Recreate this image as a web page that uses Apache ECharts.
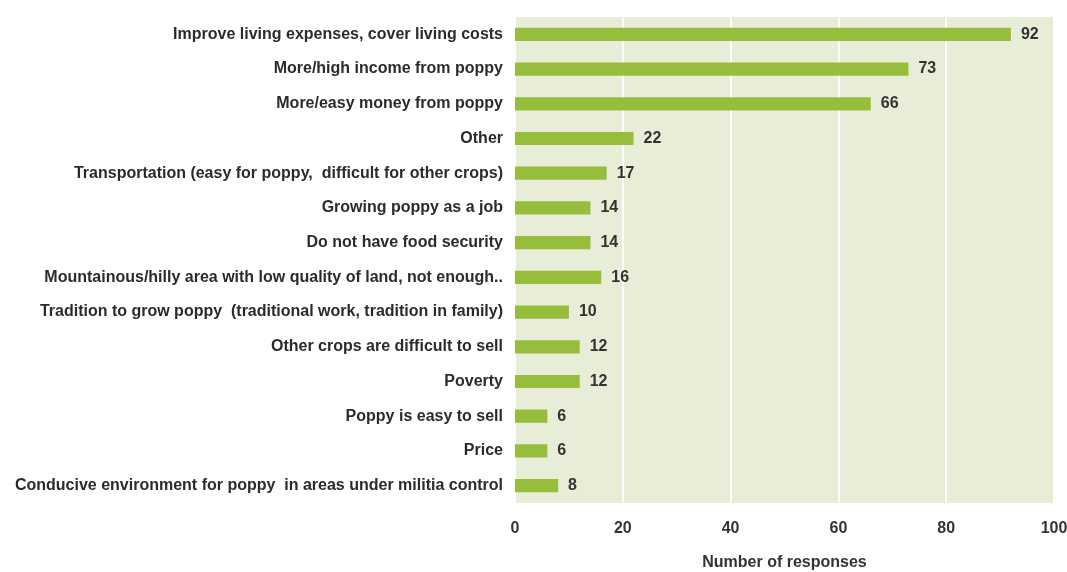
<!DOCTYPE html>
<html>
<head>
<meta charset="utf-8">
<script src="https://cdn.jsdelivr.net/npm/echarts@6/dist/echarts.min.js"></script>
<style>
  html, body { margin: 0; padding: 0; background: #ffffff; }
  #chart { width: 1067px; height: 572px; }
</style>
</head>
<body>
<div id="chart"></div>
<script>
// Reasons for growing poppy, listed top to bottom
const categories = [
  "Improve living expenses, cover living costs",
  "More/high income from poppy",
  "More/easy money from poppy",
  "Other",
  "Transportation (easy for poppy,  difficult for other crops)",
  "Growing poppy as a job",
  "Do not have food security",
  "Mountainous/hilly area with low quality of land, not enough..",
  "Tradition to grow poppy  (traditional work, tradition in family)",
  "Other crops are difficult to sell",
  "Poverty",
  "Poppy is easy to sell",
  "Price",
  "Conducive environment for poppy  in areas under militia control"
];
const responses = [92, 73, 66, 22, 17, 14, 14, 16, 10, 12, 12, 6, 6, 8];
const xTicks = [0, 20, 40, 60, 80, 100];
const xTitle = "Number of responses";

const font = "'Liberation Sans', Arial, sans-serif";
const chart = echarts.init(document.getElementById('chart'));
chart.setOption({
  animation: false,
  grid: { left: 515, right: 13, top: 17, bottom: 69, containLabel: false,
          outerBoundsMode: 'none',
          show: true, backgroundColor: '#e7edd7', borderWidth: 0 },
  xAxis: {
    type: 'value', min: xTicks[0], max: xTicks[xTicks.length - 1],
    interval: xTicks[1] - xTicks[0],
    name: xTitle, nameLocation: 'middle', nameGap: 52,
    nameTextStyle: { fontFamily: font, fontWeight: 'bold', fontSize: 16, color: '#333333' },
    axisLine: { show: false }, axisTick: { show: false },
    axisLabel: { fontFamily: font, fontWeight: 'bold', fontSize: 16, color: '#333333', margin: 18 },
    splitLine: { show: true, lineStyle: { color: '#ffffff', width: 2 } }
  },
  yAxis: {
    type: 'category', data: categories, inverse: true,
    axisLine: { show: false }, axisTick: { show: false },
    axisLabel: { fontFamily: font, fontWeight: 'bold', fontSize: 16, color: '#2b2b2b', margin: 12 }
  },
  series: [{
    type: 'bar', data: responses, barCategoryGap: '62%',
    itemStyle: { color: '#97bd3d' },
    label: { show: true, position: 'right', distance: 10,
             fontFamily: font, fontWeight: 'bold', fontSize: 16, color: '#333333' }
  }]
});
</script>
</body>
</html>
